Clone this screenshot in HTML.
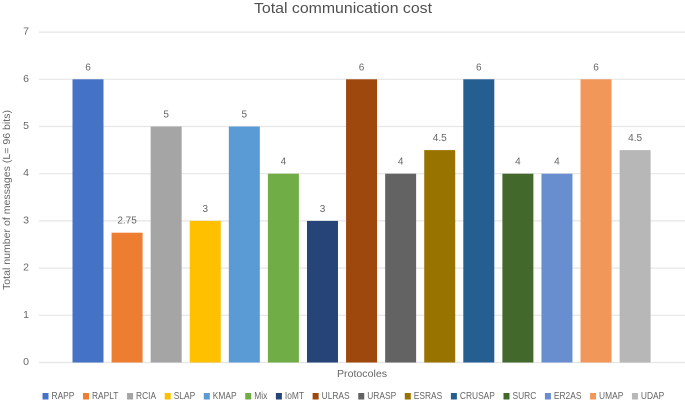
<!DOCTYPE html>
<html>
<head>
<meta charset="utf-8">
<style>
html,body{margin:0;padding:0;background:#fff;width:685px;height:401px;overflow:hidden}
svg{display:block}
text{font-family:"Liberation Sans",sans-serif;fill:#666666}
</style>
</head>
<body>
<svg id="chart" width="685" height="401" viewBox="0 0 685 401" xmlns="http://www.w3.org/2000/svg">
  <text x="343" y="13" text-anchor="middle" font-size="15" textLength="178" lengthAdjust="spacingAndGlyphs" style="fill:#505050">Total communication cost</text>
  <text transform="translate(10,200) rotate(-90)" text-anchor="middle" font-size="10.5" textLength="180" lengthAdjust="spacingAndGlyphs">Total number of messages (L= 96 bits)</text>
  <text x="362" y="377" text-anchor="middle" font-size="10.5" textLength="50" lengthAdjust="spacingAndGlyphs">Protocoles</text>
  <g id="grid"></g>
  <g id="bars"></g>
  <g id="labels"></g>
  <g id="legend"></g>
</svg>
<script>
const categories = ["RAPP","RAPLT","RCIA","SLAP","KMAP","Mix","IoMT","ULRAS","URASP","ESRAS","CRUSAP","SURC","ER2AS","UMAP","UDAP"];
const values = [6,2.75,5,3,5,4,3,6,4,4.5,6,4,4,6,4.5];
const yTicks = [0,1,2,3,4,5,6,7];
const colors = ["#4472C4","#ED7D31","#A5A5A5","#FFC000","#5B9BD5","#70AD47","#264478","#9E480E","#636363","#997300","#255E91","#43682B","#698ED0","#F1975A","#B7B7B7"];

const NS = "http://www.w3.org/2000/svg";
const yScale = v => 362.5 - v * 47.2;
const xScale = i => 88 + i * 39.08;
const barW = 31;

function make(tag, parent, attrs, txt) {
  const el = document.createElementNS(NS, tag);
  for (const k in attrs) el.setAttribute(k, attrs[k]);
  if (txt !== undefined) el.textContent = txt;
  parent.appendChild(el);
  return el;
}

const grid = document.getElementById("grid");
yTicks.forEach(t => {
  const line = make("line", grid, {x1:39, x2:685, y1:yScale(t), y2:yScale(t), stroke:"#e6e6e6", "stroke-width":1.2});
  
  
  const lab = make("text", grid, {x:26, y:yScale(t) + 2.5, "text-anchor":"middle", "font-size":10.5}, t);
  
  
});

const bars = document.getElementById("bars");
const labels = document.getElementById("labels");
values.forEach((v, i) => {
  const r = make("rect", bars, {x:xScale(i) - barW / 2, y:yScale(v), width:barW, height:yScale(0) - yScale(v), fill:colors[i]});
  
  
  const t = make("text", labels, {x:xScale(i), y:yScale(v) - 9, "text-anchor":"middle", "font-size":10}, v);
  
  
});

const legend = document.getElementById("legend");
const legendScale = 0.8;
const legendGap = 8.6;
let cursor = 42.5;
categories.forEach((c, i) => {
  const m = make("rect", legend, {x:cursor, y:393, width:6, height:6.5, fill:colors[i]});
  
  
  const t = make("text", legend, {"font-size":10.5, y:399});
  t.textContent = c;
  
  
  const w = t.getComputedTextLength() * legendScale;
  t.setAttribute("x", cursor + 9);
  t.setAttribute("textLength", w);
  t.setAttribute("lengthAdjust", "spacingAndGlyphs");
  cursor += 9 + w + legendGap;
});
</script>
</body>
</html>
